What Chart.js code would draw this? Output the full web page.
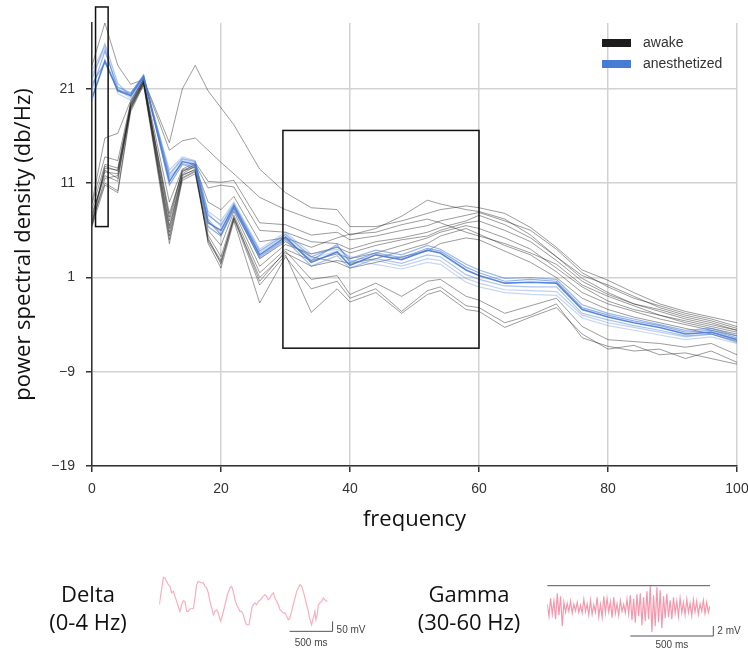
<!DOCTYPE html>
<html>
<head>
<meta charset="utf-8">
<script src="https://cdn.jsdelivr.net/npm/chart.js@4.4.1/dist/chart.umd.min.js"></script>
<style>
  html, body { margin: 0; padding: 0; background: #fff; }
  #wrap { position: relative; width: 748px; height: 650px; overflow: hidden; }
  #main { position: absolute; left: 0; top: 0; }
  #deltaCv { position: absolute; left: 150px; top: 570px; }
  #gammaCv { position: absolute; left: 540px; top: 578px; }
  .band {
    position: absolute; width: 160px; text-align: center; color: #111;
    font-family: 'Open Sans', 'Noto Sans', sans-serif; font-size: 22px; line-height: 28px;
  }
</style>
</head>
<body>
<div id="wrap">
  <canvas id="main" width="748" height="545"></canvas>
  <canvas id="deltaCv" width="240" height="80"></canvas>
  <canvas id="gammaCv" width="208" height="72"></canvas>
  <div class="band" style="left:8px; top:579px;">Delta<br>(0-4 Hz)</div>
  <div class="band" style="left:389px; top:579px;">Gamma<br>(30-60 Hz)</div>
</div>

<script>
// =====================================================
// DATA
// =====================================================

const freqs = [0, 2, 4, 6, 8, 12, 14, 16, 18, 20, 22, 26, 30, 34, 38, 40, 44, 48, 52, 54, 58, 60, 64, 68, 72, 76, 80, 84, 88, 92, 96, 100]
const yTicks = [-19, -9, 1, 11, 21]

// anesthetized (blue)
const an01 = [20, 24, 20.8, 20.3, 22.3, 11.2, 13.3, 13, 6.8, 6, 8.6, 3.4, 5.3, 2.6, 3.7, 2.3, 3.4, 2.9, 3.9, 3.6, 1.8, 1.2, 0.4, 0.5, 0.4, -2.4, -3.2, -3.8, -4.3, -5, -4.8, -5.6]
const an02 = [21, 25, 21.2, 20.6, 22.4, 12, 13.6, 13.3, 7.6, 6.6, 8.8, 3.8, 5.6, 3.2, 4.3, 3.0, 3.9, 3.4, 4.4, 4.0, 2.4, 1.8, 0.9, 1.0, 0.8, -1.9, -2.8, -3.4, -4.0, -4.6, -4.4, -5.2]
const an03 = [22, 25.8, 21.6, 20.2, 22.2, 11.6, 13.1, 12.8, 7.2, 5.6, 8.4, 3.0, 5.0, 2.2, 3.3, 2.0, 3.0, 2.5, 3.4, 3.2, 1.3, 0.8, 0.1, 0.0, 0.0, -2.8, -3.5, -4.1, -4.6, -5.2, -5.0, -5.9]
const an04 = [23, 25.5, 20.5, 19.8, 22.0, 12.4, 13.8, 13.4, 8.0, 7.0, 9.0, 4.0, 5.8, 3.5, 4.0, 3.2, 2.8, 2.2, 3.0, 2.8, 0.9, 0.4, -0.3, -0.4, -0.5, -3.0, -3.8, -4.3, -4.8, -5.3, -5.0, -5.7]
const an05 = [21.5, 23.8, 20.9, 20.5, 22.5, 10.8, 13.0, 12.6, 6.4, 5.4, 8.2, 3.2, 5.1, 2.8, 4.5, 2.6, 3.6, 3.1, 4.1, 3.8, 2.1, 1.5, 0.6, 0.8, 0.6, -2.2, -3.0, -3.6, -4.1, -4.8, -4.6, -5.4]
const an06 = [22.5, 25.2, 21.0, 20.0, 22.1, 11.8, 13.5, 13.1, 7.8, 6.4, 8.7, 3.6, 5.5, 3.0, 3.8, 2.8, 2.4, 1.9, 2.6, 2.4, 0.5, 0.0, -0.6, -0.8, -0.9, -3.3, -4.1, -4.6, -5.1, -5.6, -5.3, -6.0]

// awake (grey)
const aw01 = [23.5, 28, 23.5, 21.5, 22, 15.3, 21, 23.5, 20.8, 19, 17.2, 12.5, 10, 8.4, 8.2, 6.4, 6.4, 7.0, 7.8, 8.2, 8.6, 8.4, 7.8, 6.3, 4.2, 1.8, 0.7, -0.6, -1.8, -2.6, -3.2, -3.8]
const aw02 = [9, 15.8, 16.3, 19.8, 22, 14.5, 15.5, 15.8, 14.5, 13.2, 12, 9.5, 8.2, 7.2, 6.5, 5.5, 6.2, 7.5, 9.2, 8.8, 8.2, 8.0, 7.2, 5.5, 3.2, 1.2, 0.2, -1.0, -2.2, -3.0, -3.6, -4.4]
const aw03 = [8.2, 13, 12.6, 19.5, 22, 9, 12.5, 13.2, 11.2, 11.1, 11.3, 6.8, 6.6, 5.5, 5.8, 5.0, 5.4, 6.0, 6.5, 7.0, 7.6, 7.9, 7.0, 6.0, 4.0, 1.5, 0.0, -1.2, -2.0, -2.8, -3.4, -4.2]
const aw04 = [7.5, 12.2, 12.0, 19.2, 21.8, 7.8, 12.2, 13.0, 10.5, 10.8, 10.6, 6.0, 5.8, 4.8, 4.6, 4.0, 4.8, 5.2, 5.8, 6.3, 7.0, 7.6, 6.6, 5.2, 3.2, 0.9, -0.6, -1.8, -2.6, -3.4, -4.0, -4.6]
const aw05 = [6.8, 12.8, 12.3, 19.0, 21.6, 6.5, 12.0, 12.8, 9.0, 8.2, 9.6, 4.8, 5.2, 4.2, 5.2, 5.6, 5.8, 6.6, 7.2, 6.8, 5.8, 5.4, 4.6, 3.6, 2.4, 0.2, -1.0, -2.0, -3.0, -3.8, -4.4, -5.0]
const aw06 = [6.6, 11.5, 11.8, 18.8, 21.5, 5.8, 11.8, 12.5, 6.0, 4.4, 8.0, 2.2, 4.5, 3.5, 4.2, 3.6, 4.4, 5.0, 5.4, 6.0, 6.8, 7.0, 6.0, 4.8, 2.8, 0.6, -0.8, -1.8, -2.4, -3.2, -3.8, -4.6]
const aw07 = [7.0, 11.0, 10.2, 18.9, 21.7, 5.0, 11.5, 12.2, 5.5, 3.2, 7.6, 1.5, 4.0, 2.8, 3.5, 3.0, 3.6, 4.4, 5.2, 5.8, 6.5, 6.2, 5.2, 4.0, 2.0, 0.0, -1.5, -2.4, -3.0, -3.6, -4.2, -4.8]
const aw08 = [6.4, 10.8, 10.0, 18.6, 21.4, 4.6, 11.3, 12.0, 5.0, 2.8, 7.3, 1.0, 3.6, 2.2, 2.8, 2.5, 3.0, 3.8, 4.6, 5.4, 6.2, 5.6, 4.4, 3.4, 1.6, -0.6, -1.8, -2.6, -3.4, -4.0, -4.6, -5.2]
const aw09 = [8.8, 13.8, 13.4, 19.6, 22.1, 7.0, 12.3, 12.7, 4.6, 2.0, 7.0, -1.7, 3.2, -0.2, 0.6, -1.2, -0.2, -2.6, -0.4, 0.0, -2.0, -2.2, -3.8, -3.0, -1.8, -5.4, -6.3, -6.8, -6.6, -7.6, -6.8, -8.0]
const aw10 = [6.5, 12.4, 11.5, 19.3, 21.9, 6.2, 11.9, 12.4, 5.2, 2.4, 7.2, 0.2, 3.4, -2.7, -0.2, -1.6, -0.6, -2.8, -0.8, -0.4, -2.4, -2.6, -4.3, -3.2, -2.2, -5.0, -6.6, -6.2, -7.2, -7.0, -7.6, -8.2]
const aw11 = [7.8, 11.8, 11.2, 19.1, 21.7, 5.4, 11.6, 12.3, 4.8, 2.6, 7.4, 0.6, 3.8, 0.8, 1.2, -0.8, 0.4, -1.0, 0.6, 0.8, -1.0, -1.4, -2.8, -2.0, -1.2, -4.2, -5.6, -5.8, -6.0, -6.4, -6.0, -7.2]
const aw12 = [7.2, 12.6, 12.4, 19.4, 21.8, 7.4, 12.4, 12.9, 7.0, 5.5, 8.4, 3.0, 4.8, 3.2, 2.6, 2.0, 2.6, 3.2, 3.8, 4.6, 5.2, 5.0, 3.8, 2.6, 1.0, -1.2, -2.4, -3.2, -3.8, -4.4, -5.0, -5.8]

const anesthetized = [an01, an02, an03, an04, an05, an06]
const awake = [aw01, aw02, aw03, aw04, aw05, aw06, aw07, aw08, aw09, aw10, aw11, aw12]
const blueAlpha = [0.9, 0.55, 0.45, 0.35, 0.6, 0.3]

// highlighted regions: [freqFrom, freqTo, psdLow, psdHigh]
const deltaBox = [0.55, 2.5, 6.4, 29.7]
const gammaBox = [29.6, 60, -6.5, 16.6]

// example traces
const deltaT = [0, 47, 66, 105, 124, 143, 163, 202, 240, 260, 279, 298, 318, 337, 357, 395, 415, 434, 453, 492, 512, 531, 550, 570, 589, 609, 628, 647, 667, 686, 713, 736, 764, 791, 822, 841, 860, 880, 899, 919, 938, 957, 977, 996, 1016, 1043, 1062, 1081, 1112, 1132, 1151, 1178, 1209, 1229, 1248, 1267, 1287, 1306, 1326, 1345, 1364, 1384, 1403, 1422, 1442, 1461, 1481, 1500, 1519, 1539, 1558, 1578, 1597, 1636, 1655, 1674, 1694, 1713, 1733, 1752, 1771, 1791, 1810, 1822, 1837, 1849, 1868, 1888, 1907, 1926, 1946, 1957]
const deltaV = [-17, 120, 117, 83, 75, 42, 50, 0, -50, -17, 3, 0, -50, -50, -37, -37, 17, 83, 100, 92, 92, 75, 67, 42, 0, -33, -67, -50, -42, -58, -100, -67, -17, 33, 67, 75, 50, 8, -17, -33, -50, -50, -67, -100, -117, -117, -67, -25, -8, -17, 0, 8, 25, 33, 25, 8, 17, 33, 42, 17, 0, -17, -42, -50, -58, -58, -75, -92, -83, -50, -17, 17, 50, 83, 75, 50, 17, -17, -50, -92, -117, -83, -50, -92, -67, -17, -8, 0, 17, 8, 0, 3]

const gammaV = [0.8, -1.6, 2.0, -1.2, 1.4, -2.2, 3.0, -1.4, 2.4, -3.6, 1.2, -0.8, 1.0, -0.6, 1.4, -1.0, 0.8, -0.5, 1.2, -0.8, 0.6, -0.9, 1.8, -0.6, 0.9, -1.3, 1.6, -1.2, 0.7, -0.8, 2.2, -1.6, 0.8, -1.8, 2.4, -0.9, 2.0, -0.7, 1.3, -1.9, 2.2, -1.0, 0.9, -1.4, 1.5, -0.6, 0.8, -0.9, 1.8, -1.1, 2.6, -2.4, 1.9, -2.9, 2.8, -1.6, 3.0, -3.4, 2.2, -2.6, 3.4, -2.2, 4.5, -4.8, 2.6, -3.6, 4.2, -2.8, 3.6, -4.0, 2.4, -2.0, 2.9, -1.8, 1.6, -2.2, 2.2, -1.0, 1.4, -1.6, 2.0, -0.9, 1.2, -1.3, 1.8, -0.8, 1.0, -1.5, 1.7, -0.7, 1.4, -1.2, 0.9, -0.6, 1.6, -1.0, 1.2, -0.8, 0.5]
const gammaSpanMs = 980

// =====================================================
// MAIN CHART
// =====================================================

Chart.defaults.font.family = "'Liberation Sans', Arial, sans-serif"

const BLUE = '71,123,214'

const datasets = [
  ...anesthetized.map((vals, i) => ({
    data: vals.map((v, k) => ({ x: freqs[k], y: v })),
    borderColor: `rgba(${BLUE},${blueAlpha[i]})`,
    borderWidth: i === 0 ? 1.6 : 1.2
  })),
  ...awake.map(vals => ({
    data: vals.map((v, k) => ({ x: freqs[k], y: v })),
    borderColor: 'rgba(20,20,20,0.42)',
    borderWidth: 1
  }))
]

const overlay = {
  id: 'overlay',
  afterDraw(chart) {
    const { ctx, scales: { x, y } } = chart
    ctx.save()

    // boxes
    ctx.strokeStyle = '#111'
    ctx.lineWidth = 1.5
    ;[deltaBox, gammaBox].forEach(b => {
      const x0 = x.getPixelForValue(b[0]), x1 = x.getPixelForValue(b[1])
      const y0 = y.getPixelForValue(b[3]), y1 = y.getPixelForValue(b[2])
      ctx.strokeRect(x0, y0, x1 - x0, y1 - y0)
    })

    // legend
    const items = [['awake', '#1c1c1c'], ['anesthetized', `rgb(${BLUE})`]]
    ctx.font = "14px 'Liberation Sans', Arial, sans-serif"
    ctx.textBaseline = 'alphabetic'
    items.forEach(([label, col], i) => {
      const top = 39 + i * 21
      ctx.fillStyle = col
      ctx.fillRect(602, top, 29, 8)
      ctx.fillStyle = '#333'
      ctx.fillText(label, 643, top + 8)
    })
    ctx.restore()
  }
}

const gridOpts = { color: '#d2d2d2', lineWidth: 1.5, tickLength: 6, tickColor: '#333', tickWidth: 1.5 }
const titleFont = { family: "'Open Sans', 'Noto Sans', sans-serif", size: 22 }

new Chart(document.getElementById('main'), {
  type: 'line',
  data: { datasets },
  options: {
    responsive: false,
    animation: false,
    parsing: false,
    layout: { padding: { top: 23, right: 11, left: 0, bottom: 0 } },
    plugins: { legend: { display: false }, tooltip: { enabled: false } },
    elements: { point: { radius: 0 }, line: { tension: 0 } },
    scales: {
      x: {
        type: 'linear', min: 0, max: 100,
        ticks: { stepSize: 20, padding: 9, color: '#333', font: { size: 14 }, maxRotation: 0 },
        grid: gridOpts,
        border: { color: '#333', width: 1.5 },
        title: { display: true, text: 'frequency', font: titleFont, color: '#111', padding: { top: 4, bottom: 12 } },
        afterFit: s => { s.height = 79; s.paddingLeft = 0; s.paddingRight = 0 }
      },
      y: {
        type: 'linear', min: -19, max: 28,
        afterBuildTicks: s => { s.ticks = yTicks.map(v => ({ value: v })) },
        ticks: {
          padding: 11, color: '#333', font: { size: 14 },
          callback: v => v < 0 ? '\u2212' + Math.abs(v) : String(v)
        },
        grid: gridOpts,
        border: { color: '#333', width: 1.5 },
        title: { display: true, text: 'power spectral density (db/Hz)', font: titleFont, color: '#111', padding: { top: 11, bottom: 4 } },
        afterFit: s => { s.width = 92; s.paddingTop = 0; s.paddingBottom = 0 }
      }
    }
  },
  plugins: [overlay]
})

// =====================================================
// TRACES
// =====================================================

function scaleBars(o) {
  return {
    id: 'bars',
    afterDraw(chart) {
      const { ctx, scales: { x, y }, chartArea } = chart
      const xa = x.getPixelForValue(o.t0), xb = x.getPixelForValue(o.t0 + o.dt)
      const yb = y.getPixelForValue(o.v0), yt = y.getPixelForValue(o.v0 + o.dv)
      ctx.save()
      ctx.strokeStyle = '#555'
      ctx.lineWidth = 1
      ctx.beginPath()
      ctx.moveTo(xa, yb); ctx.lineTo(xb, yb); ctx.lineTo(xb, yt)
      if (o.topLine) {
        ctx.moveTo(chartArea.left, chartArea.top)
        ctx.lineTo(chartArea.right, chartArea.top)
      }
      ctx.stroke()
      ctx.fillStyle = '#444'
      ctx.font = "10px 'Liberation Sans', Arial, sans-serif"
      ctx.textBaseline = 'middle'
      ctx.textAlign = 'left'
      ctx.fillText(o.vLabel, xb + 4, (yb + yt) / 2 + o.vOff)
      ctx.textAlign = 'center'
      ctx.fillText(o.tLabel, (xa + xb) / 2, yb + o.tOff)
      ctx.restore()
    }
  }
}

function traceChart(id, points, color, xMax, yMin, yMax, padding, bars) {
  new Chart(document.getElementById(id), {
    type: 'line',
    data: { datasets: [{ data: points, borderColor: color, borderWidth: 1.2, pointRadius: 0, tension: 0 }] },
    options: {
      responsive: false,
      animation: false,
      parsing: false,
      layout: { padding },
      plugins: { legend: { display: false }, tooltip: { enabled: false } },
      scales: {
        x: { type: 'linear', display: false, min: 0, max: xMax },
        y: { type: 'linear', display: false, min: yMin, max: yMax }
      }
    },
    plugins: [scaleBars(bars)]
  })
}

traceChart('deltaCv',
  deltaT.map((t, i) => ({ x: t, y: deltaV[i] })),
  '#f7b0be', 1957, -143.3, 131.7,
  { left: 9.3, right: 62.4, top: 5, bottom: 20 },
  { t0: 1515, dt: 500, v0: -150, dv: 50, tLabel: '500 ms', vLabel: '50 mV', tOff: 12, vOff: 4 })

const gammaStep = gammaSpanMs / (gammaV.length - 1)
traceChart('gammaCv',
  gammaV.map((v, i) => ({ x: i * gammaStep, y: v })),
  '#f598ad', gammaSpanMs, -4.74, 4.52,
  { left: 7.3, right: 38, top: 7.7, bottom: 18 },
  { t0: 500, dt: 500, v0: -5.54, dv: 2, tLabel: '500 ms', vLabel: '2 mV', tOff: 9, vOff: 0.5, topLine: true })
</script>
</body>
</html>
